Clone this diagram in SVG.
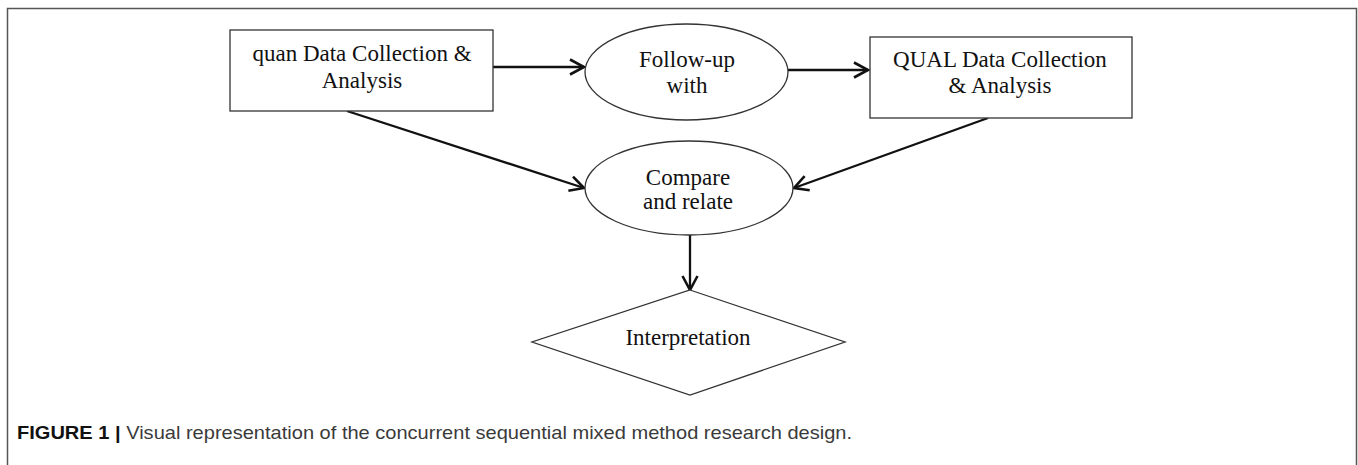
<svg xmlns="http://www.w3.org/2000/svg" width="1358" height="465" viewBox="0 0 1358 465">
  <style>
    .shape { fill: #ffffff; stroke: #333333; stroke-width: 1.3; }
    .lbl { font-family: "Liberation Serif", "Times New Roman", serif; font-size: 23px; fill: #111111; text-anchor: middle; }
    .conn { fill: none; stroke: #111111; stroke-width: 2.3; marker-end: url(#arrow); }
    .cap { font-family: "Liberation Sans", Arial, sans-serif; font-size: 19px; fill: #3a3a3a; }
  </style>
  <defs>
    <marker id="arrow" markerUnits="userSpaceOnUse" markerWidth="20" markerHeight="20" refX="0" refY="0" viewBox="-16 -10 20 20" orient="auto" overflow="visible">
      <path d="M-14,-7.5 L0,0 L-14,7.5" fill="none" stroke="#111111" stroke-width="2.6" stroke-linejoin="miter"/>
    </marker>
  </defs>
  <rect width="1358" height="465" fill="#ffffff"/>
  <path d="M7.5,470 V8.5 H1356.5 V470" fill="none" stroke="#555555" stroke-width="1.5"/>

  <g id="connectors">
    <line class="conn" x1="493" y1="67" x2="584" y2="67"/>
    <line class="conn" x1="788" y1="70" x2="868" y2="70"/>
    <line class="conn" x1="347" y1="111" x2="584" y2="188"/>
    <line class="conn" x1="988" y1="118" x2="794" y2="188"/>
    <line class="conn" x1="690" y1="235" x2="690" y2="290"/>
  </g>

  <g id="quan">
    <rect class="shape" x="230" y="30" width="263" height="81"/>
    <text class="lbl" x="362" y="61">quan Data Collection &amp;</text>
    <text class="lbl" x="362" y="88">Analysis</text>
  </g>

  <g id="followup">
    <ellipse class="shape" cx="686.5" cy="72" rx="101.5" ry="48"/>
    <text class="lbl" x="687" y="67">Follow-up</text>
    <text class="lbl" x="687" y="93">with</text>
  </g>

  <g id="qual">
    <rect class="shape" x="870" y="37" width="262" height="81"/>
    <text class="lbl" x="1000" y="67">QUAL Data Collection</text>
    <text class="lbl" x="1000" y="93">&amp; Analysis</text>
  </g>

  <g id="compare">
    <ellipse class="shape" cx="689" cy="188" rx="104" ry="47"/>
    <text class="lbl" x="688" y="185">Compare</text>
    <text class="lbl" x="688" y="209">and relate</text>
  </g>

  <g id="interpretation">
    <polygon class="shape" points="690,290 845,342 690,395 532,342"/>
    <text class="lbl" x="688" y="345">Interpretation</text>
  </g>

  <text class="cap" x="17" y="439" textLength="835" lengthAdjust="spacingAndGlyphs"><tspan font-weight="bold" fill="#111111">FIGURE 1 |</tspan> Visual representation of the concurrent sequential mixed method research design.</text>
</svg>
